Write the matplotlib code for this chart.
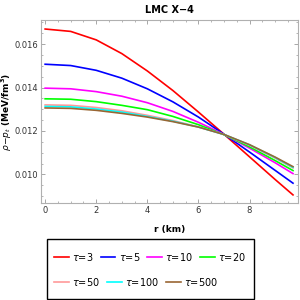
import matplotlib
matplotlib.use("Agg")
import matplotlib.pyplot as plt
from matplotlib.ticker import MultipleLocator, FormatStrFormatter
from matplotlib.patches import Rectangle

r = [0, 1, 2, 3, 4, 5, 6, 7, 8, 9, 9.7]
tau3 = [0.01669, 0.01658, 0.01619, 0.01556, 0.01476, 0.01386, 0.01287, 0.01185, 0.01081, 0.00977, 0.00906]
tau5 = [0.01507, 0.01501, 0.01479, 0.01443, 0.01394, 0.01334, 0.01264, 0.01185, 0.01103, 0.01019, 0.00960]
tau10 = [0.01397, 0.01394, 0.01381, 0.01360, 0.01330, 0.01290, 0.01240, 0.01184, 0.01121, 0.01054, 0.01004]
tau20 = [0.01348, 0.01346, 0.01335, 0.01318, 0.01298, 0.01267, 0.01229, 0.01183, 0.01127, 0.01064, 0.01018]
tau50 = [0.01320, 0.01318, 0.01308, 0.01293, 0.01272, 0.01248, 0.01219, 0.01184, 0.01134, 0.01075, 0.01030]
tau100 = [0.01313, 0.01311, 0.01301, 0.01287, 0.01267, 0.01245, 0.01218, 0.01184, 0.01136, 0.01078, 0.01033]
tau500 = [0.01306, 0.01304, 0.01295, 0.01281, 0.01264, 0.01243, 0.01218, 0.01184, 0.01137, 0.01080, 0.01036]

labels = ["3", "5", "10", "20", "50", "100", "500"]
series = [tau3, tau5, tau10, tau20, tau50, tau100, tau500]
colors = ["#ff0000", "#0000ff", "#ff00ff", "#00ff00", "#ff9999", "#00ffff", "#996633"]

fig = plt.figure(figsize=(3, 3), dpi=100)
ax = fig.add_axes([0.136, 0.322, 0.856, 0.611])

handles = []
for lab, ys, c in zip(labels, series, colors):
    h, = ax.plot(r, ys, color=c, lw=1.2, label=r"$\tau$=" + lab)
    handles.append(h)

ax.set_xlim(-0.17, 9.88)
ax.set_ylim(0.00867, 0.0171)
ax.xaxis.set_major_locator(MultipleLocator(2))
ax.xaxis.set_minor_locator(MultipleLocator(0.5))
ax.yaxis.set_major_locator(MultipleLocator(0.002))
ax.yaxis.set_minor_locator(MultipleLocator(0.0005))
ax.yaxis.set_major_formatter(FormatStrFormatter("%.3f"))
ax.tick_params(which="both", direction="in", top=True, right=True,
               color="#999999", labelsize=6, labelcolor="#333333", pad=2)
ax.tick_params(which="major", length=3, width=0.6)
ax.tick_params(which="minor", length=1.6, width=0.5)
for s in ax.spines.values():
    s.set_color("#b0b0b0")
    s.set_linewidth(0.8)

ax.set_title("LMC X\u22124", fontsize=7, fontweight="bold", pad=5)
ax.set_xlabel("r (km)", fontsize=6.5, fontweight="bold", labelpad=7)
ax.set_ylabel(r"$\rho\!-\!p_t$ (MeV/fm$^\mathbf{3}$)", fontsize=6.5, fontweight="bold")
ax.yaxis.set_label_coords(-0.104, 0.5)

common = dict(fontsize=7, frameon=False, handlelength=1.5, handletextpad=0.35,
              columnspacing=0.75, borderpad=0, borderaxespad=0)
leg1 = fig.legend(handles=handles[:4], loc="center left",
                  bbox_to_anchor=(54 / 300, 1 - 256.7 / 300), ncol=4, **common)
leg2 = fig.legend(handles=handles[4:], loc="center left",
                  bbox_to_anchor=(54 / 300, 1 - 281.7 / 300), ncol=3, **common)
fig.add_artist(Rectangle((47 / 300, 1 / 300), 207 / 300, 59.7 / 300,
                         transform=fig.transFigure, fill=False,
                         edgecolor="black", linewidth=1.0))

fig.savefig("out.png", dpi=100)
